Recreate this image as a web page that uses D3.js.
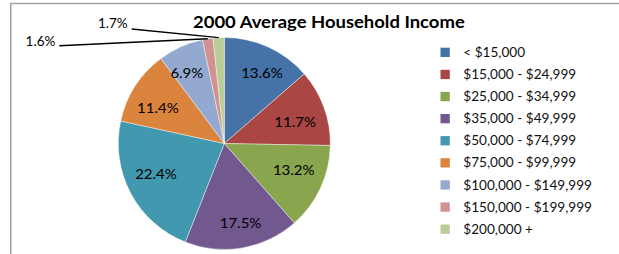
<!DOCTYPE html>
<html><head><meta charset="utf-8">
<script src="https://cdn.jsdelivr.net/npm/d3@7"></script>
<style>body{margin:0;background:#fff}svg{display:block}</style>
</head><body>
<script>
// ---- data ----
const categories = ["< $15,000","$15,000 - $24,999","$25,000 - $34,999","$35,000 - $49,999",
  "$50,000 - $74,999","$75,000 - $99,999","$100,000 - $149,999","$150,000 - $199,999","$200,000 +"];
const values = [13.6, 11.7, 13.2, 17.5, 22.4, 11.4, 6.9, 1.6, 1.7];
const colors = ["#4572A7","#AA4643","#89A54E","#71588F","#4198AF","#DB843D","#93A9CF","#D19392","#B9CD96"];
const titleText = "2000 Average Household Income";

// ---- layout ----
const W = 619, H = 254;
const cx = 224.3, cy = 143.5, R = 106, labelR = 77;
const FONT = "Lato, 'Open Sans', sans-serif";

const svg = d3.select("body").append("svg").attr("width", W).attr("height", H);

// frame (only top and left edges visible)
svg.append("path").attr("d", `M10.7,${H} V3.5 H${W}`)
  .attr("fill", "none").attr("stroke", "#a3a3a3").attr("stroke-width", 1.6);

function measure(txt, size, weight) {
  const t = svg.append("text").attr("font-family", FONT).attr("font-size", size)
    .attr("font-weight", weight || "normal").text(txt);
  const w = t.node().getComputedTextLength();
  t.remove();
  return w;
}
const sxLabel = 41.7 / measure("13.6%", 14, "normal");
const sxLegend = 113 / measure("$15,000 - $24,999", 13, "normal");
const sxTitle = 272 / measure(titleText, 17.5, "bold");

// title
svg.append("text")
  .attr("transform", `translate(193,27.6) scale(${sxTitle},1)`)
  .attr("font-family", FONT).attr("font-size", 17.5).attr("font-weight", "bold")
  .attr("fill", "#000").text(titleText);

// pie
const pie = d3.pie().sort(null).value(d => d);
const arcs = pie(values);
const arc = d3.arc().innerRadius(0).outerRadius(R);
const edgeArc = d3.arc().innerRadius(R).outerRadius(R);
const g = svg.append("g").attr("transform", `translate(${cx},${cy})`);

g.selectAll("path.slice").data(arcs).join("path")
  .attr("class", "slice")
  .attr("d", arc)
  .attr("fill", (d, i) => colors[i])
  .attr("stroke", "#ffffff").attr("stroke-width", 0.6).attr("stroke-opacity", 0.7);

// label position: mid-angle, nudged for a label box that is wider than tall
function labelPos(d) {
  const mid = (d.startAngle + d.endAngle) / 2;
  const a = mid + 0.087 * Math.sin(2 * mid);
  const r = labelR + 4 * Math.cos(2 * mid);
  return [r * Math.sin(a), -r * Math.cos(a)];
}

// inner labels for large slices
const fmt = v => v.toFixed(1) + "%";
arcs.forEach((d, i) => {
  if (d.data < 5) return;
  const [x, y] = labelPos(d);
  g.append("text")
    .attr("transform", `translate(${x},${y}) scale(${sxLabel},1)`)
    .attr("text-anchor", "middle").attr("dy", "0.36em")
    .attr("font-family", FONT).attr("font-size", 14).attr("fill", "#000")
    .text(fmt(d.data));
});

// outside labels with leader lines for tiny slices
const leaderAnchors = { 7: [-165, -97.8], 8: [-92.6, -114.5] };
arcs.forEach((d, i) => {
  if (d.data >= 5) return;
  const [ex, ey] = edgeArc.centroid(d);
  const [ax, ay] = leaderAnchors[i];
  g.append("line")
    .attr("x1", ax).attr("y1", ay).attr("x2", ex).attr("y2", ey)
    .attr("stroke", "#000").attr("stroke-width", 1.4);
  g.append("text")
    .attr("transform", `translate(${ax - 4},${ay - (i === 8 ? 6 : 4.2)}) scale(${sxLabel * 0.97},1)`)
    .attr("text-anchor", "end").attr("dy", "0.36em")
    .attr("font-family", FONT).attr("font-size", 13).attr("fill", "#000")
    .text(fmt(d.data));
});

// legend
const legY0 = 52.3, legStep = 22.1;
const leg = svg.append("g");
categories.forEach((c, i) => {
  const y = legY0 + i * legStep;
  leg.append("rect").attr("x", 440.5).attr("y", y - 4.6).attr("width", 9.3).attr("height", 9.3)
    .attr("fill", colors[i]);
  leg.append("text")
    .attr("transform", `translate(463.3,${y}) scale(${sxLegend},1)`)
    .attr("dy", "0.36em")
    .attr("font-family", FONT).attr("font-size", 13).attr("fill", "#111")
    .text(c);
});
</script>
</body></html>
